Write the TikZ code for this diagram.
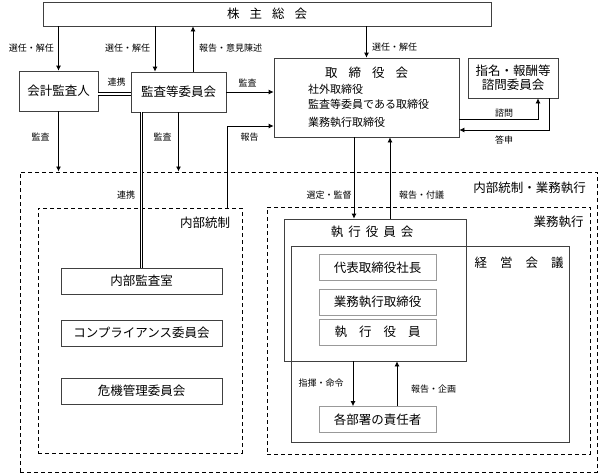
\documentclass[tikz,border=0pt]{standalone}
\usepackage{fontspec}
\setmainfont{Noto Sans CJK JP}
\usetikzlibrary{positioning,arrows.meta,calc}

\begin{document}
\begin{tikzpicture}[x=1pt, y=-1pt, font=\fontsize{12.5}{15}\selectfont,
    box/.style={draw=black!75, line width=0.8pt, inner sep=0pt},
    inbox/.style={draw=black!40, line width=0.8pt, inner sep=0pt, minimum width=117, minimum height=26},
    dbox/.style={draw=black, line width=1pt, dash pattern=on 4pt off 3pt, inner sep=0pt},
    lbl/.style={font=\fontsize{9}{11}\selectfont, inner sep=0pt},
    arr/.style={-{Latex[length=5pt,width=5pt]}, line width=0.8pt},
    link/.style={double, double distance=1.6pt, line width=0.8pt}]
    \useasboundingbox (0,0) rectangle (600,474);
    % top
    \node[box, minimum width=448, minimum height=24] (shu) at (267,14) {株\hspace{10pt}主\hspace{10pt}総\hspace{10pt}会};
    \node[box, minimum width=79, minimum height=40] (kaikei) at (58.5,91) {会計監査人};
    \node[box, minimum width=95, minimum height=40] (kansa) at (178.5,92) {監査等委員会};
    \node[box, minimum width=185, minimum height=79] (tori) at (366.5,97.5) {};
    \node (toriT) at (366.5,73) {取\hspace{11pt}締\hspace{11pt}役\hspace{11pt}会};
    \foreach \y/\name/\txt in {89/toriA/社外取締役,104/toriB/監査等委員である取締役,122/toriC/業務執行取締役}
        \node[anchor=west, inner sep=0pt, font=\fontsize{11}{13}\selectfont] (\name) at (308,\y) {\txt};
    \node[box, minimum width=90, minimum height=40, align=center] (shimon) at (513,78) {指名・報酬等\\[-1pt]諮問委員会};
    % dashed areas
    \node[dbox, minimum width=577, minimum height=300] (outer) at (308.5,322) {};
    \node[dbox, minimum width=204, minimum height=245] (naibu) at (140,330.5) {};
    \node[dbox, minimum width=323, minimum height=247] (gyomu) at (428.5,330.5) {};
    \node (outerT) at (529.5,188) {内部統制・業務執行};
    \node (naibuT) at (205,223) {内部統制};
    \node (gyomuT) at (558.5,222) {業務執行};
    % internal control
    \foreach \y/\name/\txt in {281/kansashitsu/内部監査室,333/comp/コンプライアンス委員会,391/kiki/危機管理委員会}
        \node[box, minimum width=161, minimum height=26] (\name) at (141.5,\y) {\txt};
    % execution
    \node[box, minimum width=182, minimum height=142] (shikkokai) at (375,290) {};
    \node[box, minimum width=278, minimum height=196] (keiei) at (430,344) {};
    \node (shikkokaiT) at (372,232) {執\hspace{5pt}行\hspace{5pt}役\hspace{5pt}員\hspace{5pt}会};
    \node (keieiT) at (519,263) {経\hspace{13pt}営\hspace{13pt}会\hspace{13pt}議};
    \node[inbox] (daihyo) at (377.5,267.5) {代表取締役社長};
    \node[inbox] (gyomutori) at (377.5,302) {業務執行取締役};
    \node[inbox] (yakuin) at (377.5,332) {執\hspace{12pt}行\hspace{12pt}役\hspace{12pt}員};
    \node[inbox] (kakubusho) at (377.5,419.5) {各部署の責任者};
    % connectors
    \draw[arr] (shu.south -| kaikei.north) -- (kaikei.north);
    \draw[arr] ($(kansa.north)+(-23.5,0)$) coordinate (k1) (shu.south -| k1) -- (k1);
    \draw[arr] ($(kansa.north)+(14.5,0)$) coordinate (k2) -- (shu.south -| k2);
    \draw[arr] (shu.south -| tori.north) -- (tori.north);
    \draw[link] ($(kaikei.east)+(0,3)$) coordinate (k3) -- (k3 -| kansa.west);
    \draw[arr] (kansa.east) -- (kansa.east -| tori.west);
    \draw[arr] ($(naibu.north east)+(-15,0)$) coordinate (k4) |- ($(tori.west)+(0,28.5)$);
    \draw[arr] (kaikei.south) -- (kaikei.south |- outer.north);
    \draw[arr] (kansa.south) -- (kansa.south |- outer.north);
    \draw[link] (kansashitsu.north |- kansa.south) -- (kansashitsu.north);
    \draw[arr] ($(tori.east)+(0,21.5)$) -| ($(shimon.south)+(25,0)$);
    \draw[arr] ($(shimon.south)+(36,0)$) |- ($(tori.east)+(0,32.5)$);
    \draw[arr] ($(tori.south)+(-12.5,0)$) coordinate (k5) -- (k5 |- shikkokai.north);
    \draw[arr] ($(tori.south)+(23.5,0)$) coordinate (k6) (k6 |- shikkokai.north) -- (k6);
    \draw[arr] ($(shikkokai.south)+(-22,0)$) coordinate (k7) -- (k7 |- kakubusho.north);
    \draw[arr] ($(shikkokai.south)+(22,0)$) coordinate (k8) (k8 |- kakubusho.north) -- (k8);
    % labels
    \foreach \x/\y/\name/\txt in {31.5/48/l1/選任・解任, 127.5/48/l2/選任・解任, 230.5/48/l3/報告・意見陳述,
        394.5/47/l4/選任・解任, 116.5/82/l5/連携, 247.5/83/l6/監査, 40.5/137/l7/監査, 162.5/137/l8/監査,
        249.5/137/l9/報告, 504/113/l10/諮問, 504/140/l11/答申, 126/195/l12/連携, 329/195/l13/選定・監督,
        421.5/195/l14/報告・付議, 321/383/l15/指揮・命令, 433.5/389/l16/報告・企画}
        \node[lbl] (\name) at (\x,\y) {\txt};
\end{tikzpicture}
\end{document}
